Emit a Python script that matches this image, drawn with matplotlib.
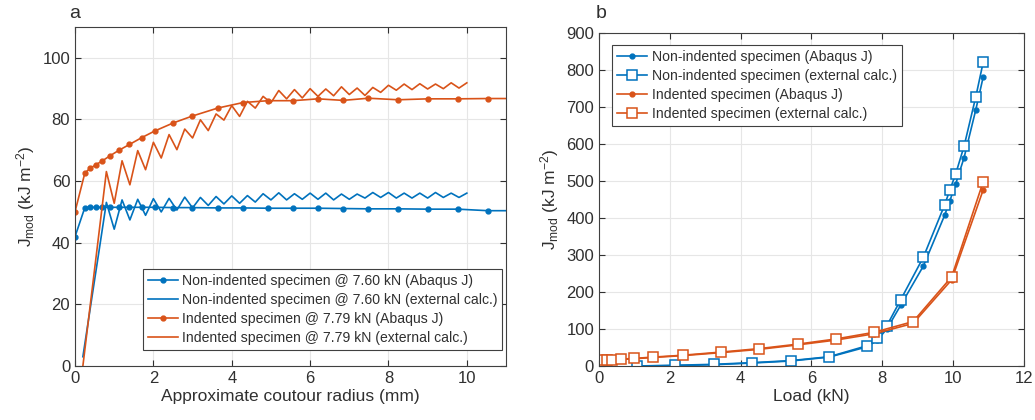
import numpy as np
import matplotlib
matplotlib.use("Agg")
import matplotlib.pyplot as plt

plt.rcParams['font.family'] = ['Liberation Sans', 'DejaVu Sans']
plt.rcParams['mathtext.default'] = 'regular'

BLUE = '#0072BD'
ORANGE = '#D95319'

# panel a: J along contours
radius_abq = [0, 0.25, 0.38, 0.53, 0.70, 0.89, 1.12, 1.39, 1.70, 2.04, 2.51, 2.99,
              3.64, 4.29, 4.93, 5.56, 6.20, 6.84, 7.49, 8.25, 9.00, 9.77, 10.54, 11.3]
j_nonind_abq = [42.0, 51.4, 51.5, 51.5, 51.5, 51.5, 51.5, 51.5, 51.5, 51.5, 51.4, 51.4,
                51.3, 51.3, 51.2, 51.2, 51.2, 51.1, 51.0, 51.0, 50.9, 50.9, 50.4, 50.4]
j_ind_abq = [50.1, 62.6, 64.1, 65.3, 66.6, 68.2, 70.0, 71.9, 74.1, 76.3, 78.9, 81.1,
             83.7, 85.5, 86.1, 86.1, 86.7, 86.2, 86.9, 86.4, 86.7, 86.7, 86.8, 86.8]

radius_ext = [0.2, 0.4, 0.6, 0.8, 1.0, 1.2, 1.4, 1.6, 1.8, 2.0, 2.2, 2.4, 2.6, 2.8, 3.0,
              3.2, 3.4, 3.6, 3.8, 4.0, 4.2, 4.4, 4.6, 4.8, 5.0, 5.2, 5.4, 5.6, 5.8, 6.0,
              6.2, 6.4, 6.6, 6.8, 7.0, 7.2, 7.4, 7.6, 7.8, 8.0, 8.2, 8.4, 8.6, 8.8, 9.0,
              9.2, 9.4, 9.6, 9.8, 10.0]
j_nonind_ext = [3.0, 19.7, 36.3, 53.1, 44.4, 53.9, 47.4, 54.1, 48.9, 54.3, 50.0, 54.4,
                50.6, 54.8, 51.3, 54.7, 52.1, 55.0, 52.6, 55.2, 52.8, 55.3, 53.2, 55.9,
                53.9, 56.2, 53.9, 55.9, 54.1, 56.1, 54.1, 56.1, 53.9, 55.8, 54.1, 55.8,
                54.5, 56.3, 54.7, 56.3, 54.5, 56.1, 54.5, 56.1, 54.5, 56.3, 54.7, 56.1,
                54.7, 56.1]
j_ind_ext = [0.0, 21.0, 42.0, 63.1, 52.8, 66.6, 58.8, 69.9, 63.7, 72.6, 67.5, 75.1,
             70.2, 76.9, 74.0, 79.9, 76.4, 81.8, 79.8, 84.5, 81.0, 85.9, 83.7, 87.5,
             85.4, 89.4, 86.7, 89.7, 87.0, 90.0, 87.5, 89.9, 87.7, 90.6, 88.1, 90.2,
             87.8, 90.4, 88.8, 91.1, 89.5, 91.5, 89.7, 91.6, 89.9, 91.5, 90.0, 91.9,
             90.2, 91.9]

# panel b: J vs load
load_nonind = [1.08, 2.16, 3.25, 4.33, 5.42, 6.50, 7.58, 7.86, 8.13, 8.52, 9.16,
               9.76, 9.91, 10.07, 10.31, 10.64, 10.85]
jb_nonind_abq = [0, 1, 3.5, 8, 13.5, 24, 52, 70, 100, 164, 270, 407, 447, 491, 563, 692, 781]
jb_nonind_ext = [0, 2, 4.5, 9, 14.5, 25, 55, 75, 109, 179, 294, 435, 476, 518, 594, 727, 821]

load_ind = [0.08, 0.22, 0.38, 0.62, 0.99, 1.53, 2.36, 3.44, 4.53, 5.61, 6.69, 7.77,
            8.87, 9.96, 10.85]
jb_ind_abq = [15, 15.5, 16.5, 17.5, 19.5, 23, 28, 36, 45, 57, 70, 87, 115, 233, 476]
jb_ind_ext = [16, 16.5, 17.5, 18.5, 20.5, 24, 29, 37.5, 47, 59, 73, 91, 120, 241, 498]

TXT = '#303030'


def style_axes(ax):
    ax.grid(True, color='#e6e6e6', linewidth=0.8)
    ax.set_axisbelow(True)
    ax.tick_params(direction='in', top=True, right=True, labelsize=12,
                   colors=TXT, length=4)
    for s in ax.spines.values():
        s.set_color('#404040')
        s.set_linewidth(0.8)


fig = plt.figure(figsize=(10.35, 4.2), dpi=100)
ax1 = fig.add_axes([0.0725, 0.1286, 0.4164, 0.807])
ax2 = fig.add_axes([0.5787, 0.1286, 0.4106, 0.793])

ax1.plot(radius_abq, j_nonind_abq, '-o', color=BLUE, ms=3.5, lw=1.2,
         label='Non-indented specimen @ 7.60 kN (Abaqus J)')
ax1.plot(radius_ext, j_nonind_ext, '-', color=BLUE, lw=1.2,
         label='Non-indented specimen @ 7.60 kN (external calc.)')
ax1.plot(radius_abq, j_ind_abq, '-o', color=ORANGE, ms=3.5, lw=1.2,
         label='Indented specimen @ 7.79 kN (Abaqus J)')
ax1.plot(radius_ext, j_ind_ext, '-', color=ORANGE, lw=1.2,
         label='Indented specimen @ 7.79 kN (external calc.)')
ax1.set_xlim(0, 11)
ax1.set_ylim(0, 110)
ax1.set_yticks([0, 20, 40, 60, 80, 100])
ax1.set_xticks([0, 2, 4, 6, 8, 10])
style_axes(ax1)
ax1.set_xlabel('Approximate coutour radius (mm)', fontsize=12.5, color=TXT, labelpad=2)
ax1.set_ylabel('J$_{mod}$ (kJ m$^{-2}$)', fontsize=12.5, color=TXT, labelpad=4)
leg1 = ax1.legend(loc='lower right', bbox_to_anchor=(0.991, 0.047), borderaxespad=0,
                  fontsize=10.1, handlelength=2.1, handletextpad=0.3, labelspacing=0.37,
                  borderpad=0.35, fancybox=False, framealpha=1, edgecolor='#404040')
leg1.get_frame().set_linewidth(0.8)
for t in leg1.get_texts():
    t.set_color(TXT)

ax2.plot(load_nonind, jb_nonind_abq, '-o', color=BLUE, ms=3.5, lw=1.2,
         label='Non-indented specimen (Abaqus J)')
ax2.plot(load_nonind, jb_nonind_ext, '-s', color=BLUE, ms=6.5, lw=1.2, mfc='white',
         mew=1.1, label='Non-indented specimen (external calc.)')
ax2.plot(load_ind, jb_ind_abq, '-o', color=ORANGE, ms=3.5, lw=1.2,
         label='Indented specimen (Abaqus J)')
ax2.plot(load_ind, jb_ind_ext, '-s', color=ORANGE, ms=6.5, lw=1.2, mfc='white',
         mew=1.1, label='Indented specimen (external calc.)')
ax2.set_xlim(0, 12)
ax2.set_ylim(0, 900)
ax2.set_xticks([0, 2, 4, 6, 8, 10, 12])
ax2.set_yticks(np.arange(0, 901, 100))
style_axes(ax2)
ax2.set_xlabel('Load (kN)', fontsize=12.5, color=TXT, labelpad=2)
ax2.set_ylabel('J$_{mod}$ (kJ m$^{-2}$)', fontsize=12.5, color=TXT, labelpad=4)
leg2 = ax2.legend(loc='upper left', bbox_to_anchor=(0.03, 0.964), borderaxespad=0,
                  fontsize=10.1, handlelength=2.2, handletextpad=0.3, labelspacing=0.37,
                  borderpad=0.35, fancybox=False, framealpha=1, edgecolor='#404040')
leg2.get_frame().set_linewidth(0.8)
for t in leg2.get_texts():
    t.set_color(TXT)

fig.text(0.067, 0.968, 'a', fontsize=14, color=TXT, va='center')
fig.text(0.576, 0.968, 'b', fontsize=14, color=TXT, va='center')

plt.savefig('out.png', dpi=100)
